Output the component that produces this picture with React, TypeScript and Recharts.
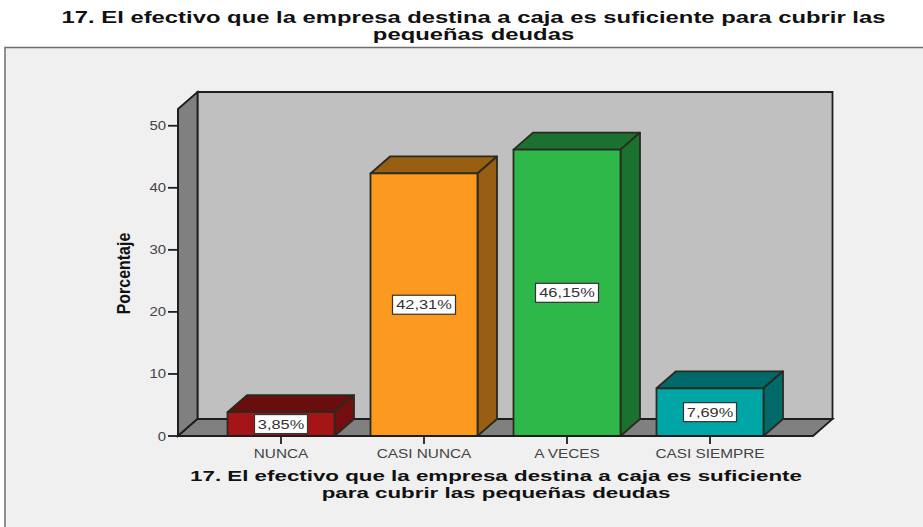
import React from "react";
import { BarChart, Bar, XAxis, YAxis, LabelList, usePlotArea } from "recharts";

const categories = ["NUNCA", "CASI NUNCA", "A VECES", "CASI SIEMPRE"];
const percentages = [3.85, 42.31, 46.15, 7.69];
const yTicks = [0, 10, 20, 30, 40, 50];
const frontColors = ["#a51518", "#fb9a1e", "#2fb84a", "#00a5a6"];
const topColors = ["#6a0d0e", "#985f12", "#1b7230", "#006a6b"];
const sideColors = ["#740e10", "#985f12", "#1b7230", "#006a6b"];
const titleLines = [
  "17. El efectivo que la empresa destina a caja es suficiente para cubrir las",
  "pequeñas deudas",
];
const xTitleLines = [
  "17. El efectivo que la empresa destina a caja es suficiente",
  "para cubrir las pequeñas deudas",
];
const yTitle = "Porcentaje";

const data = categories.map((name, i) => ({ name, value: percentages[i] }));

const DX = 19.5;
const DY = 17;
const FONT = "'Liberation Sans', Arial, sans-serif";
const INK = "#1e1e1e";

function Stretched({ x, y, sx, size, weight, color, children }: any) {
  return (
    <g transform={`translate(${x},${y}) scale(${sx},1)`}>
      <text textAnchor="middle" fontFamily={FONT} fontSize={size} fontWeight={weight} fill={color}>
        {children}
      </text>
    </g>
  );
}

function Backdrop() {
  const p = usePlotArea();
  if (!p) return null;
  const l = p.x;
  const r = p.x + p.width;
  const t = p.y;
  const b = p.y + p.height;
  const pts = (a: number[][]) => a.map((q) => q.join(",")).join(" ");
  return (
    <g>
      <rect x={5} y={47.5} width={930} height={500} fill="#f0f0f0" stroke="#6e6e6e" strokeWidth={1.5} />
      <polygon points={pts([[l + DX, t - DY], [r + DX, t - DY], [r + DX, b - DY], [l + DX, b - DY]])} fill="#c0c0c0" stroke={INK} strokeWidth={1.8} />
      <polygon points={pts([[l, t], [l + DX, t - DY], [l + DX, b - DY], [l, b]])} fill="#808080" stroke={INK} strokeWidth={1.8} />
      <polygon points={pts([[l, b], [l + DX, b - DY], [r + DX, b - DY], [r, b]])} fill="#808080" stroke={INK} strokeWidth={1.8} />
      <Stretched x={473.5} y={23} sx={1.49} size={16} weight={700} color="#111">{titleLines[0]}</Stretched>
      <Stretched x={473.5} y={39.5} sx={1.49} size={16} weight={700} color="#111">{titleLines[1]}</Stretched>
      <Stretched x={496} y={481} sx={1.49} size={15} weight={700} color="#111">{xTitleLines[0]}</Stretched>
      <Stretched x={496} y={497.5} sx={1.49} size={15} weight={700} color="#111">{xTitleLines[1]}</Stretched>
      <g transform="translate(130,273.5) rotate(-90) scale(0.84,1)">
        <text textAnchor="middle" fontFamily={FONT} fontSize={19} fontWeight={700} fill="#111">
          {yTitle}
        </text>
      </g>
    </g>
  );
}

function Box3D(props: any) {
  const { x, y, width, height, index } = props;
  const stroke = "#2a2a1e";
  const sw = 1.8;
  const r = x + width;
  const b = y + height;
  return (
    <g strokeLinejoin="round">
      <polygon points={`${x},${y} ${x + DX},${y - DY} ${r + DX},${y - DY} ${r},${y}`} fill={topColors[index]} stroke={stroke} strokeWidth={sw} />
      <polygon points={`${r},${y} ${r + DX},${y - DY} ${r + DX},${b - DY} ${r},${b}`} fill={sideColors[index]} stroke={stroke} strokeWidth={sw} />
      <rect x={x} y={y} width={width} height={height} fill={frontColors[index]} stroke={stroke} strokeWidth={sw} />
    </g>
  );
}

function PercentLabel(props: any) {
  const { x, y, width, height, value } = props;
  const cx = x + width / 2;
  const cy = y + height / 2;
  const text = Number(value).toFixed(2).replace(".", ",") + "%";
  const boxW = text.length * 10 + 3;
  return (
    <g>
      <rect x={cx - boxW / 2} y={cy - 9.5} width={boxW} height={19} fill="#ffffff" stroke="#333" strokeWidth={1.2} />
      <Stretched x={cx} y={cy + 4.5} sx={1.26} size={13} weight={400} color="#333">{text}</Stretched>
    </g>
  );
}

function CategoryTick({ x, y, payload }: any) {
  return <Stretched x={x} y={y + 12} sx={1.18} size={13} weight={400} color="#444">{payload.value}</Stretched>;
}

function ValueTick({ x, y, payload }: any) {
  return (
    <g transform={`translate(${x},${y + 4.5}) scale(1.15,1)`}>
      <text textAnchor="end" fontFamily={FONT} fontSize={13} fill="#444">{payload.value}</text>
    </g>
  );
}

export default function App() {
  return (
    <div style={{ position: "absolute", left: 0, top: 0, width: 923, height: 527, overflow: "hidden", background: "#fff" }}>
      <BarChart
        width={923}
        height={527}
        data={data}
        margin={{ top: 109, right: 110, bottom: 0, left: 0 }}
        barSize={107}
      >
        <Backdrop />
        <XAxis
          dataKey="name"
          padding={{ left: 31.5, right: 31.5 }}
          interval={0}
          height={91}
          tickSize={8}
          tick={<CategoryTick />}
          stroke={INK}
          strokeWidth={1.8}
        />
        <YAxis
          domain={[0, 52.7]}
          ticks={yTicks}
          width={178}
          tickSize={10}
          tick={<ValueTick />}
          stroke={INK}
          strokeWidth={1.8}
        />
        <Bar dataKey="value" isAnimationActive={false} shape={<Box3D />}>
          <LabelList dataKey="value" content={<PercentLabel />} />
        </Bar>
      </BarChart>
    </div>
  );
}
